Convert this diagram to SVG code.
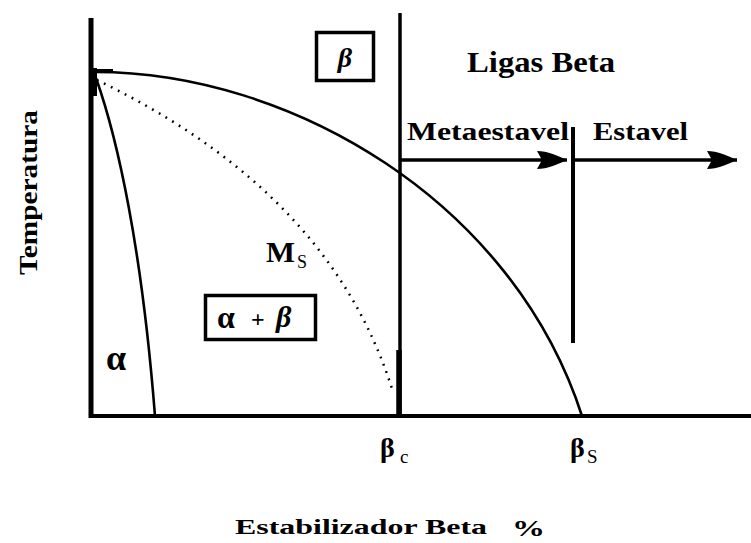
<svg xmlns="http://www.w3.org/2000/svg" width="751" height="543" viewBox="0 0 751 543">
<style>
.ax{stroke:#000;fill:none;stroke-linecap:butt}
.cv{stroke:#000;fill:none;stroke-width:2.6}
.box{fill:#fff;stroke:#000;stroke-width:3.5}
.t{font-family:"Liberation Serif","Times New Roman",serif;font-weight:bold;fill:#000}
.g{font-family:"Liberation Serif","Times New Roman",serif;font-weight:bold;fill:#000}
.sub{font-family:"Liberation Serif","Times New Roman",serif;fill:#000}
</style>
<defs>
<marker id="ah" markerUnits="userSpaceOnUse" markerWidth="34" markerHeight="24" refX="30" refY="12" orient="auto" overflow="visible">
<path d="M0,3 C10,3 22,8 30,12 C22,16 10,21 0,21 L5,12 Z" fill="#000"/>
</marker>
</defs>
<rect width="751" height="543" fill="#fff"/>
<g id="connectors">
<line class="ax" x1="91" y1="18" x2="91" y2="418" stroke-width="5"/>
<line class="ax" x1="89" y1="416" x2="751" y2="416" stroke-width="4"/>
<line class="ax" x1="400" y1="13" x2="400" y2="418" stroke-width="3.5"/>
<line class="ax" x1="399" y1="350" x2="399" y2="418" stroke-width="5.5"/>
<line class="ax" x1="573" y1="127" x2="573" y2="343" stroke-width="4"/>
<line class="ax" x1="91" y1="71" x2="113" y2="71" stroke-width="4"/>
<rect x="91" y="68" width="6" height="28" fill="#000"/>
<path class="cv" d="M95,72 C290,72 512,200 582,416"/>
<path class="cv" d="M96,78 C118,140 142,250 155,416" stroke-width="3"/>
<path d="M97,80 C200,130 340,220 393,392" fill="none" stroke="#000" stroke-width="2.5" stroke-dasharray="1.8 6"/>
<line class="ax" x1="400" y1="160" x2="567" y2="160" stroke-width="3.5" marker-end="url(#ah)"/>
<line class="ax" x1="573" y1="160" x2="737" y2="160" stroke-width="3.5" marker-end="url(#ah)"/>
</g>
<g id="beta-box">
<rect class="box" x="316.5" y="32.5" width="57" height="48"/>
<text class="g" x="345" y="67" font-size="28" font-style="italic" text-anchor="middle">β</text>
</g>
<g id="alpha-beta-box">
<rect class="box" x="205.5" y="295.5" width="110" height="44"/>
<text class="g" font-size="32" y="328"><tspan x="217">α</tspan><tspan x="251" font-size="24" y="327">+</tspan><tspan x="276" font-style="italic" font-size="30">β</tspan></text>
</g>
<g id="alpha-label">
<text class="g" x="106" y="370" font-size="36">α</text>
</g>
<g id="ms-label">
<text class="t" x="266" y="262" font-size="30" textLength="29" lengthAdjust="spacingAndGlyphs">M</text>
<text class="sub" x="297" y="268" font-size="18">S</text>
</g>
<g id="ligas-beta">
<text class="t" x="467" y="72" font-size="29" textLength="148" lengthAdjust="spacingAndGlyphs">Ligas Beta</text>
</g>
<g id="metaestavel">
<text class="t" x="407" y="140" font-size="26" textLength="162" lengthAdjust="spacingAndGlyphs">Metaestavel</text>
</g>
<g id="estavel">
<text class="t" x="593" y="140" font-size="26" textLength="95" lengthAdjust="spacingAndGlyphs">Estavel</text>
</g>
<g id="beta-c">
<text class="g" x="380" y="457" font-size="28">β</text>
<text class="sub" x="400" y="463" font-size="19">c</text>
</g>
<g id="beta-s">
<text class="g" x="570" y="457" font-size="28">β</text>
<text class="sub" x="587" y="463" font-size="19">S</text>
</g>
<g id="x-label">
<text class="t" x="235" y="534" font-size="22" textLength="252" lengthAdjust="spacingAndGlyphs">Estabilizador Beta</text>
<text class="t" x="512" y="536" font-size="24" textLength="33" lengthAdjust="spacingAndGlyphs">%</text>
</g>
<g id="y-label">
<text class="t" transform="translate(37,275) rotate(-90)" x="0" y="0" font-size="26" textLength="165" lengthAdjust="spacingAndGlyphs">Temperatura</text>
</g>
</svg>
